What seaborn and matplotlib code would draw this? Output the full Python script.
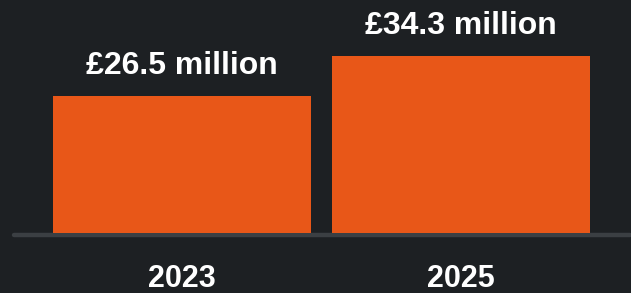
import matplotlib
matplotlib.use("Agg")
import matplotlib.pyplot as plt
import seaborn as sns

# data
years = ["2023", "2025"]
funding = [26.5, 34.3]
labels = ["£26.5 million", "£34.3 million"]

bg = "#1d2023"
orange = "#e85718"

sns.set_style("dark")
plt.rcParams["font.family"] = ["Liberation Sans", "DejaVu Sans"]

fig = plt.figure(figsize=(6.31, 2.93), dpi=100, facecolor=bg)
ax = fig.add_axes([14 / 631, 60 / 293, 616 / 631, 233 / 293])
ax.set_facecolor(bg)

sns.barplot(x=years, y=funding, color=orange, saturation=1, width=0.925,
            linewidth=0, ax=ax, zorder=3)

# baseline
ax.axhline(-0.3, color="#3b3f43", lw=3.2, zorder=2, clip_on=False)

ax.bar_label(ax.containers[0], labels=labels, padding=11, color="white",
             fontsize=23, fontweight="bold")

ax.set_xlim(-0.602, 1.606)
ax.set_ylim(0, 45.2)
ax.set_yticks([])
ax.set_ylabel("")
ax.tick_params(axis="x", length=0, pad=22, labelsize=22, labelcolor="white")
for lab in ax.get_xticklabels():
    lab.set_fontweight("bold")
for s in ax.spines.values():
    s.set_visible(False)
ax.grid(False)

fig.savefig("out.png", dpi=100, facecolor=bg)
